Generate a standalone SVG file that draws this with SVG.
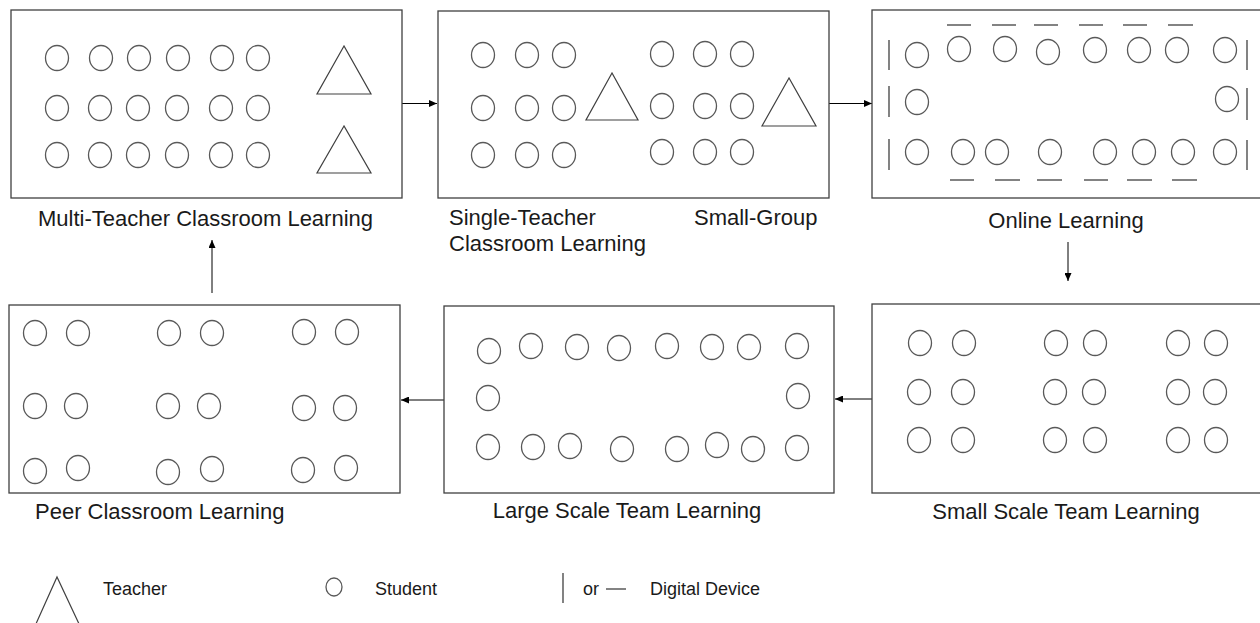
<svg xmlns="http://www.w3.org/2000/svg" width="1260" height="623" viewBox="0 0 1260 623">
<defs>
<marker id="ah" markerUnits="userSpaceOnUse" markerWidth="9" markerHeight="7" refX="8" refY="3.5" orient="auto">
<path d="M0,0 L8,3.5 L0,7 z" fill="#000"/>
</marker>
<style>
.box{fill:#fff;stroke:#404040;stroke-width:1.3}
.s{fill:none;stroke:#595959;stroke-width:1.3}
.t{fill:none;stroke:#404040;stroke-width:1.2}
.d{stroke:#404040;stroke-width:1.3}
.c{stroke:#000;stroke-width:1;fill:none;marker-end:url(#ah)}
.lb{font-family:"Liberation Sans",Arial,sans-serif;font-size:22px;fill:#1a1a1a}
.lg{font-family:"Liberation Sans",Arial,sans-serif;font-size:18px;fill:#1a1a1a}
</style>
</defs>
<rect width="1260" height="623" fill="#fff"/>

<g id="connectors">
<line class="c" x1="402" y1="103.5" x2="437" y2="103.5"/>
<line class="c" x1="829" y1="103.5" x2="872" y2="103.5"/>
<line class="c" x1="1068" y1="242" x2="1068" y2="281"/>
<line class="c" x1="872" y1="399" x2="835" y2="399"/>
<line class="c" x1="444" y1="400" x2="401" y2="400"/>
<line class="c" x1="212" y1="293" x2="212" y2="240"/>
</g>

<g id="multi-teacher">
<rect class="box" x="11" y="10" width="391" height="188"/>
<g class="s">
<ellipse cx="57" cy="58" rx="11.5" ry="12.5"/><ellipse cx="101" cy="58" rx="11.5" ry="12.5"/><ellipse cx="139" cy="58" rx="11.5" ry="12.5"/><ellipse cx="178" cy="58" rx="11.5" ry="12.5"/><ellipse cx="222" cy="58" rx="11.5" ry="12.5"/><ellipse cx="258" cy="58" rx="11.5" ry="12.5"/>
<ellipse cx="57" cy="108" rx="11.5" ry="12.5"/><ellipse cx="100" cy="108" rx="11.5" ry="12.5"/><ellipse cx="138" cy="108" rx="11.5" ry="12.5"/><ellipse cx="177" cy="108" rx="11.5" ry="12.5"/><ellipse cx="221" cy="108" rx="11.5" ry="12.5"/><ellipse cx="258" cy="108" rx="11.5" ry="12.5"/>
<ellipse cx="57" cy="155" rx="11.5" ry="12.5"/><ellipse cx="100" cy="155" rx="11.5" ry="12.5"/><ellipse cx="138" cy="155" rx="11.5" ry="12.5"/><ellipse cx="177" cy="155" rx="11.5" ry="12.5"/><ellipse cx="221" cy="155" rx="11.5" ry="12.5"/><ellipse cx="258" cy="155" rx="11.5" ry="12.5"/>
</g>
<polygon class="t" points="344,46 317,94 371,94"/>
<polygon class="t" points="344,126 317,173 371,173"/>
<text class="lb" x="38" y="226">Multi-Teacher Classroom Learning</text>
</g>

<g id="single-teacher">
<rect class="box" x="438" y="11" width="391" height="187"/>
<g class="s">
<ellipse cx="483" cy="55" rx="11.5" ry="12.5"/><ellipse cx="527" cy="55" rx="11.5" ry="12.5"/><ellipse cx="564" cy="55" rx="11.5" ry="12.5"/>
<ellipse cx="483" cy="108" rx="11.5" ry="12.5"/><ellipse cx="527" cy="108" rx="11.5" ry="12.5"/><ellipse cx="564" cy="108" rx="11.5" ry="12.5"/>
<ellipse cx="483" cy="155" rx="11.5" ry="12.5"/><ellipse cx="527" cy="155" rx="11.5" ry="12.5"/><ellipse cx="564" cy="155" rx="11.5" ry="12.5"/>
<ellipse cx="662" cy="54" rx="11.5" ry="12.5"/><ellipse cx="705" cy="54" rx="11.5" ry="12.5"/><ellipse cx="742" cy="54" rx="11.5" ry="12.5"/>
<ellipse cx="662" cy="106" rx="11.5" ry="12.5"/><ellipse cx="705" cy="106" rx="11.5" ry="12.5"/><ellipse cx="742" cy="106" rx="11.5" ry="12.5"/>
<ellipse cx="662" cy="152" rx="11.5" ry="12.5"/><ellipse cx="705" cy="152" rx="11.5" ry="12.5"/><ellipse cx="742" cy="152" rx="11.5" ry="12.5"/>
</g>
<polygon class="t" points="612,73 586,120 638,120"/>
<polygon class="t" points="789,78 762,126 816,126"/>
<text class="lb" x="449" y="225">Single-Teacher</text>
<text class="lb" x="449" y="251">Classroom Learning</text>
<text class="lb" x="694" y="225">Small-Group</text>
</g>

<g id="online">
<rect class="box" x="872" y="10" width="400" height="188"/>
<g class="d">
<line x1="947" y1="25" x2="971" y2="25"/><line x1="992" y1="25" x2="1016" y2="25"/><line x1="1034" y1="25" x2="1058" y2="25"/><line x1="1079" y1="25" x2="1103" y2="25"/><line x1="1123" y1="25" x2="1147" y2="25"/><line x1="1168" y1="25" x2="1193" y2="25"/>
<line x1="950" y1="180" x2="974" y2="180"/><line x1="995" y1="180" x2="1020" y2="180"/><line x1="1037" y1="180" x2="1062" y2="180"/><line x1="1084" y1="180" x2="1108" y2="180"/><line x1="1127" y1="180" x2="1152" y2="180"/><line x1="1172" y1="180" x2="1197" y2="180"/>
<line x1="889" y1="40" x2="889" y2="70"/><line x1="889" y1="86" x2="889" y2="117"/><line x1="889" y1="139" x2="889" y2="170"/>
<line x1="1247" y1="40" x2="1247" y2="70"/><line x1="1247" y1="88" x2="1247" y2="120"/><line x1="1247" y1="140" x2="1247" y2="170"/>
</g>
<g class="s">
<ellipse cx="917" cy="55" rx="11.5" ry="12.5"/><ellipse cx="959" cy="49" rx="11.5" ry="12.5"/><ellipse cx="1005" cy="49" rx="11.5" ry="12.5"/><ellipse cx="1048" cy="52" rx="11.5" ry="12.5"/><ellipse cx="1095" cy="50" rx="11.5" ry="12.5"/><ellipse cx="1139" cy="50" rx="11.5" ry="12.5"/><ellipse cx="1177" cy="50" rx="11.5" ry="12.5"/><ellipse cx="1225" cy="50" rx="11.5" ry="12.5"/>
<ellipse cx="917" cy="102" rx="11.5" ry="12.5"/><ellipse cx="1227" cy="99" rx="11.5" ry="12.5"/>
<ellipse cx="917" cy="152" rx="11.5" ry="12.5"/><ellipse cx="963" cy="152" rx="11.5" ry="12.5"/><ellipse cx="997" cy="152" rx="11.5" ry="12.5"/><ellipse cx="1050" cy="152" rx="11.5" ry="12.5"/><ellipse cx="1105" cy="152" rx="11.5" ry="12.5"/><ellipse cx="1144" cy="152" rx="11.5" ry="12.5"/><ellipse cx="1183" cy="152" rx="11.5" ry="12.5"/><ellipse cx="1225" cy="152" rx="11.5" ry="12.5"/>
</g>
<text class="lb" x="1066" y="228" text-anchor="middle">Online Learning</text>
</g>

<g id="small-scale-team">
<rect class="box" x="872" y="304" width="400" height="189"/>
<g class="s">
<ellipse cx="920" cy="343" rx="11.5" ry="12.5"/><ellipse cx="964" cy="343" rx="11.5" ry="12.5"/><ellipse cx="1056" cy="343" rx="11.5" ry="12.5"/><ellipse cx="1095" cy="343" rx="11.5" ry="12.5"/><ellipse cx="1178" cy="343" rx="11.5" ry="12.5"/><ellipse cx="1216" cy="343" rx="11.5" ry="12.5"/>
<ellipse cx="919" cy="392" rx="11.5" ry="12.5"/><ellipse cx="963" cy="392" rx="11.5" ry="12.5"/><ellipse cx="1055" cy="392" rx="11.5" ry="12.5"/><ellipse cx="1094" cy="392" rx="11.5" ry="12.5"/><ellipse cx="1178" cy="392" rx="11.5" ry="12.5"/><ellipse cx="1215" cy="392" rx="11.5" ry="12.5"/>
<ellipse cx="919" cy="440" rx="11.5" ry="12.5"/><ellipse cx="963" cy="440" rx="11.5" ry="12.5"/><ellipse cx="1055" cy="440" rx="11.5" ry="12.5"/><ellipse cx="1095" cy="440" rx="11.5" ry="12.5"/><ellipse cx="1178" cy="440" rx="11.5" ry="12.5"/><ellipse cx="1216" cy="440" rx="11.5" ry="12.5"/>
</g>
<text class="lb" x="1066" y="519" text-anchor="middle">Small Scale Team Learning</text>
</g>

<g id="large-scale-team">
<rect class="box" x="444" y="306" width="390" height="187"/>
<g class="s">
<ellipse cx="489" cy="351" rx="11.5" ry="12.5"/><ellipse cx="531" cy="346" rx="11.5" ry="12.5"/><ellipse cx="577" cy="347" rx="11.5" ry="12.5"/><ellipse cx="619" cy="348" rx="11.5" ry="12.5"/><ellipse cx="667" cy="346" rx="11.5" ry="12.5"/><ellipse cx="712" cy="347" rx="11.5" ry="12.5"/><ellipse cx="749" cy="347" rx="11.5" ry="12.5"/><ellipse cx="797" cy="346" rx="11.5" ry="12.5"/>
<ellipse cx="488" cy="398" rx="11.5" ry="12.5"/><ellipse cx="798" cy="396" rx="11.5" ry="12.5"/>
<ellipse cx="488" cy="447" rx="11.5" ry="12.5"/><ellipse cx="533" cy="447" rx="11.5" ry="12.5"/><ellipse cx="570" cy="446" rx="11.5" ry="12.5"/><ellipse cx="622" cy="449" rx="11.5" ry="12.5"/><ellipse cx="677" cy="449" rx="11.5" ry="12.5"/><ellipse cx="717" cy="445" rx="11.5" ry="12.5"/><ellipse cx="753" cy="449" rx="11.5" ry="12.5"/><ellipse cx="797" cy="448" rx="11.5" ry="12.5"/>
</g>
<text class="lb" x="627" y="518" text-anchor="middle">Large Scale Team Learning</text>
</g>

<g id="peer-classroom">
<rect class="box" x="9" y="305" width="391" height="188"/>
<g class="s">
<ellipse cx="35" cy="333" rx="11.5" ry="12.5"/><ellipse cx="78" cy="333" rx="11.5" ry="12.5"/><ellipse cx="169" cy="333" rx="11.5" ry="12.5"/><ellipse cx="212" cy="333" rx="11.5" ry="12.5"/><ellipse cx="304" cy="332" rx="11.5" ry="12.5"/><ellipse cx="347" cy="332" rx="11.5" ry="12.5"/>
<ellipse cx="35" cy="406" rx="11.5" ry="12.5"/><ellipse cx="76" cy="406" rx="11.5" ry="12.5"/><ellipse cx="168" cy="406" rx="11.5" ry="12.5"/><ellipse cx="209" cy="406" rx="11.5" ry="12.5"/><ellipse cx="304" cy="408" rx="11.5" ry="12.5"/><ellipse cx="345" cy="408" rx="11.5" ry="12.5"/>
<ellipse cx="35" cy="471" rx="11.5" ry="12.5"/><ellipse cx="78" cy="468" rx="11.5" ry="12.5"/><ellipse cx="168" cy="472" rx="11.5" ry="12.5"/><ellipse cx="212" cy="469" rx="11.5" ry="12.5"/><ellipse cx="303" cy="470" rx="11.5" ry="12.5"/><ellipse cx="346" cy="468" rx="11.5" ry="12.5"/>
</g>
<text class="lb" x="35" y="519">Peer Classroom Learning</text>
</g>

<g id="legend">
<polyline class="t" points="35,626 57,577 80,626"/>
<text class="lg" x="103" y="595">Teacher</text>
<ellipse class="s" cx="334" cy="587" rx="8" ry="9"/>
<text class="lg" x="375" y="595">Student</text>
<line class="d" x1="563" y1="573" x2="563" y2="603"/>
<text class="lg" x="583" y="595">or</text>
<line class="d" x1="606" y1="589" x2="626" y2="589"/>
<text class="lg" x="650" y="595">Digital Device</text>
</g>
</svg>
